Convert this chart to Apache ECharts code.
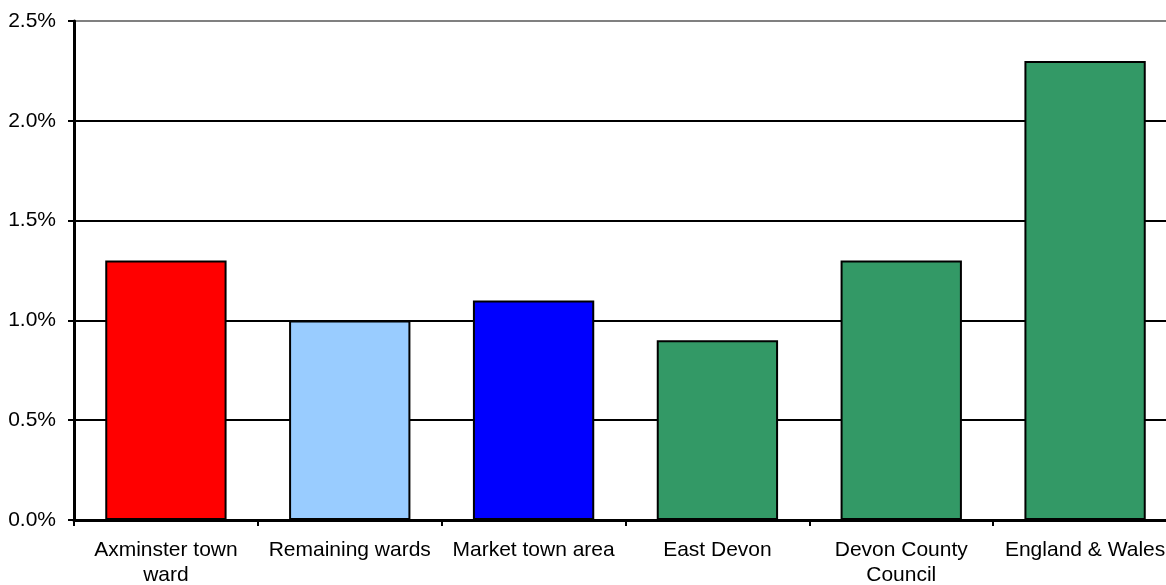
<!DOCTYPE html>
<html>
<head>
<meta charset="utf-8">
<script src="https://cdn.jsdelivr.net/npm/echarts@6/dist/echarts.min.js"></script>
<style>
  html, body { margin: 0; padding: 0; background: #fff; overflow: hidden; }
  /* the plot area runs slightly past the visible window on the right */
  #chart { width: 1177px; height: 585px; }
</style>
</head>
<body>
<div id="chart"></div>
<script>
// Share of residents, by area (percent)
const categories = [
  'Axminster town\nward',
  'Remaining wards',
  'Market town area',
  'East Devon',
  'Devon County\nCouncil',
  'England & Wales'
];
const values = [1.3, 1.0, 1.1, 0.9, 1.3, 2.3];
const barColors = ['#FF0000', '#99CCFF', '#0000FF', '#339966', '#339966', '#339966'];

const font = '"Liberation Sans", Arial, sans-serif';

const chart = echarts.init(document.getElementById('chart'), null, { renderer: 'canvas' });

chart.setOption({
  animation: false,
  backgroundColor: '#ffffff',
  grid: { left: 74, top: 21, right: 0, bottom: 65, containLabel: false, outerBoundsMode: 'none' },
  xAxis: {
    type: 'category',
    data: categories,
    axisLine: { lineStyle: { color: '#000', width: 3 } },
    axisTick: { show: true, alignWithLabel: false, length: 6, lineStyle: { color: '#000', width: 2 } },
    axisLabel: {
      color: '#000', fontFamily: font, fontSize: 21, lineHeight: 25,
      margin: 18, interval: 0
    },
    splitLine: { show: false }
  },
  yAxis: {
    type: 'value',
    min: 0, max: 2.5, interval: 0.5,
    axisLine: { show: true, lineStyle: { color: '#000', width: 3 } },
    axisTick: { show: true, length: 6, lineStyle: { color: '#000', width: 2 } },
    axisLabel: {
      color: '#000', fontFamily: font, fontSize: 21, margin: 18,
      formatter: v => v.toFixed(1) + '%'
    },
    splitLine: {
      show: true,
      lineStyle: { color: ['#000', '#000', '#000', '#000', '#000', '#808080'], width: 2 }
    }
  },
  series: [{
    type: 'bar',
    data: values.map((v, i) => ({ value: v, itemStyle: { color: barColors[i] } })),
    barWidth: '66%',
    itemStyle: { borderColor: '#000', borderWidth: 2 }
  }]
});
</script>
</body>
</html>
